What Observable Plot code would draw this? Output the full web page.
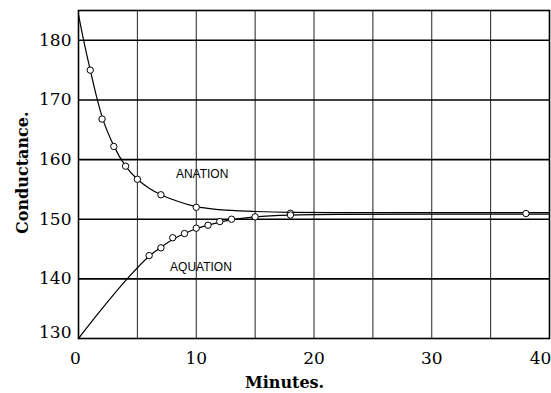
<!DOCTYPE html>
<html>
<head>
<meta charset="utf-8">
<script src="https://cdn.jsdelivr.net/npm/d3@7"></script>
<script src="https://cdn.jsdelivr.net/npm/@observablehq/plot@0.6"></script>
<style>
  html, body { margin: 0; padding: 0; background: #fff; }
  #chart { width: 551px; height: 393px; }
</style>
</head>
<body>
<div id="chart"></div>
<script>
// Smooth curves
const anationCurveX = [0, 0.5, 1, 1.5, 2, 3, 4, 5, 6, 7, 8, 10, 12, 15, 18, 22, 30, 40];
const anationCurveY = [184.3, 179.4, 175, 170.8, 167.2, 162.3, 158.9, 156.7, 155.2, 154.1, 153.3, 152.1, 151.6, 151.3, 151.15, 151.1, 151.1, 151.1];
const aquationCurveX = [0, 2, 4, 6, 7, 8, 9, 10, 11, 12, 13, 15, 18, 22, 30, 40];
const aquationCurveY = [130, 135, 139.7, 143.8, 145.3, 146.6, 147.6, 148.4, 149.0, 149.5, 149.9, 150.4, 150.7, 150.8, 150.85, 150.85];

// Observed points (circles)
const anationPtX = [1, 2, 3, 4, 5, 7, 10, 18, 38];
const anationPtY = [175, 166.8, 162.2, 158.9, 156.7, 154.1, 152.0, 151.0, 150.95];
const aquationPtX = [6, 7, 8, 9, 10, 11, 12, 13, 15, 18];
const aquationPtY = [143.9, 145.2, 146.9, 147.6, 148.5, 149.0, 149.6, 150.0, 150.4, 150.7];

// Axis ticks and grid
const xTicks = [0, 10, 20, 30, 40];
const yTicks = [130, 140, 150, 160, 170, 180];
const xGrid = [5, 10, 15, 20, 25, 30, 35];
const yGrid = [140, 150, 160, 170, 180];

// Labels
const curveLabels = ["ANATION", "AQUATION"];
const curveLabelX = [10.5, 10.4];
const curveLabelY = [157.6, 142.0];
const xTitle = "Minutes.";
const yTitle = "Conductance.";

const zip = (xs, ys) => xs.map((x, i) => ({x, y: ys[i]}));
const anationCurve = zip(anationCurveX, anationCurveY);
const aquationCurve = zip(aquationCurveX, aquationCurveY);
const anationPts = zip(anationPtX, anationPtY);
const aquationPts = zip(aquationPtX, aquationPtY);
const labels = curveLabels.map((t, i) => ({t, x: curveLabelX[i], y: curveLabelY[i]}));

const serif = "'DejaVu Serif', serif";
const axisStyle = {tickSize: 0, fontFamily: serif, fontSize: 17, label: null};

const chart = Plot.plot({
  width: 551,
  height: 393,
  marginLeft: 78,
  marginRight: 2,
  marginTop: 10,
  marginBottom: 55,
  style: {background: "white", color: "black", fontFamily: serif, fontSize: "17px"},
  x: {domain: [0, 40]},
  y: {domain: [130, 185]},
  marks: [
    Plot.ruleX(xGrid, {stroke: "#222", strokeWidth: 1}),
    Plot.ruleY(yGrid, {stroke: "black", strokeWidth: 1.6}),
    Plot.frame({stroke: "black", strokeWidth: 1.6}),
    Plot.line(anationCurve, {x: "x", y: "y", curve: "monotone-x", stroke: "black", strokeWidth: 1.2}),
    Plot.line(aquationCurve, {x: "x", y: "y", curve: "monotone-x", stroke: "black", strokeWidth: 1.2}),
    Plot.dot(anationPts, {x: "x", y: "y", r: 3.2, stroke: "black", fill: "white", strokeWidth: 1}),
    Plot.dot(aquationPts, {x: "x", y: "y", r: 3.2, stroke: "black", fill: "white", strokeWidth: 1}),
    Plot.text(labels, {x: "x", y: "y", text: "t", fontFamily: "'Liberation Sans', Arial, sans-serif", fontSize: 12, letterSpacing: 1, fill: "black", lineAnchor: "middle"}),
    Plot.axisY(yTicks.filter(d => d !== 130), {...axisStyle, tickPadding: 7}),
    Plot.axisY([130], {...axisStyle, tickPadding: 7, dy: -6}),
    Plot.axisX(xTicks.filter(d => d !== 0 && d !== 40), {...axisStyle, tickPadding: 13}),
    Plot.axisX([0], {...axisStyle, tickPadding: 13, dx: -3}),
    Plot.axisX([40], {...axisStyle, tickPadding: 13, dx: -9}),
    Plot.text([xTitle], {x: [17.5], frameAnchor: "bottom", dy: 44, textAnchor: "middle", lineAnchor: "middle", fontFamily: serif, fontWeight: "bold", fontSize: 16, fill: "black"}),
    Plot.text([yTitle], {y: [157.8], frameAnchor: "left", dx: -56, rotate: -90, textAnchor: "middle", lineAnchor: "middle", fontFamily: serif, fontWeight: "bold", fontSize: 16, fill: "black"})
  ]
});
document.getElementById("chart").appendChild(chart);
</script>
</body>
</html>
